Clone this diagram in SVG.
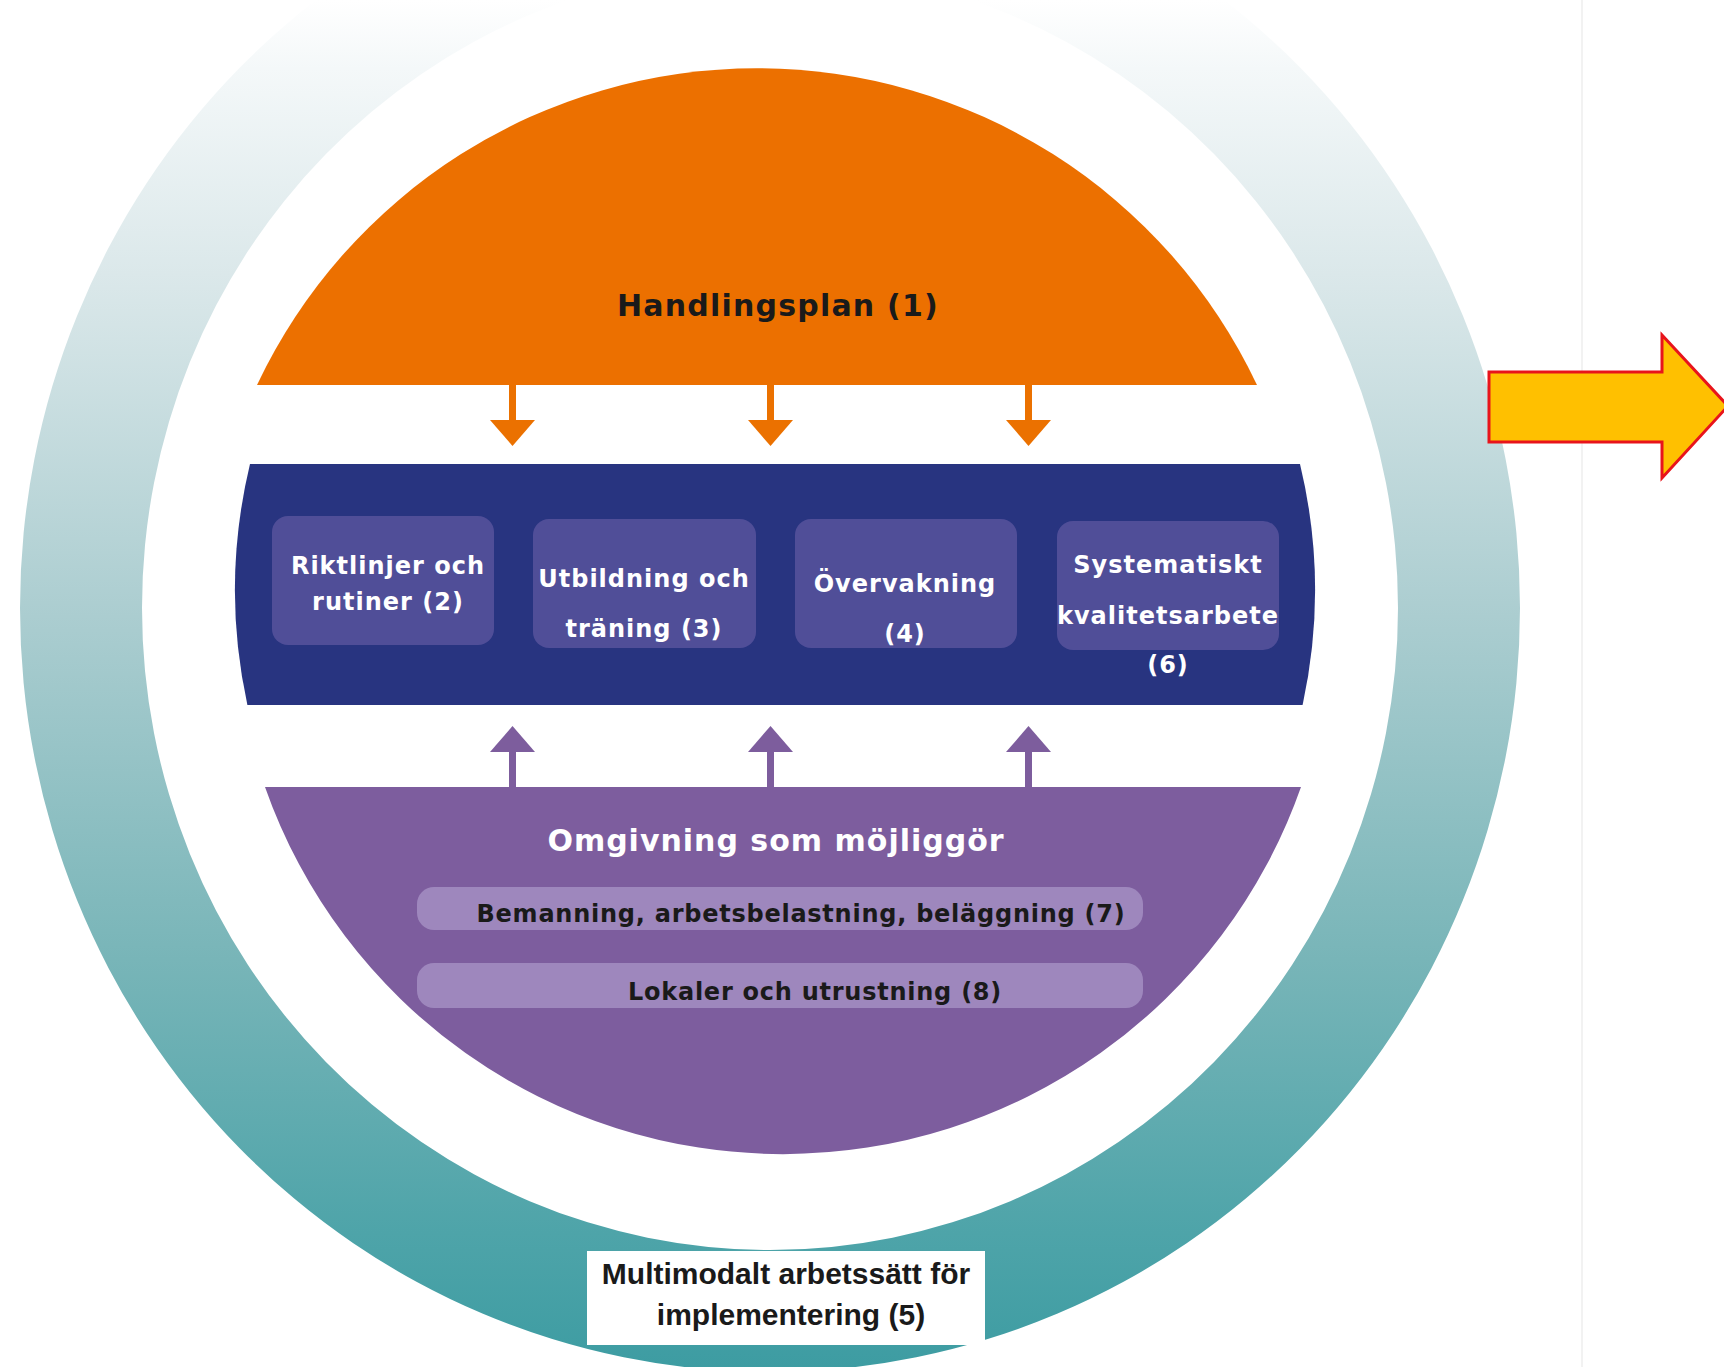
<svg xmlns="http://www.w3.org/2000/svg" width="1724" height="1367" viewBox="0 0 1724 1367">
<defs>
<linearGradient id="ringGrad" gradientUnits="userSpaceOnUse" x1="0" y1="0" x2="0" y2="1370">
<stop offset="0" stop-color="#ffffff"/>
<stop offset="0.05" stop-color="#f4f8f9"/>
<stop offset="0.2" stop-color="#dbe8ea"/>
<stop offset="0.45" stop-color="#abcdd0"/>
<stop offset="0.7" stop-color="#78b5b8"/>
<stop offset="0.9" stop-color="#4ea4a9"/>
<stop offset="1" stop-color="#3d9ca2"/>
</linearGradient>
</defs>
<style>
.w{font-family:"DejaVu Sans",Verdana,sans-serif;font-weight:bold;font-size:24px;fill:#ffffff;letter-spacing:1px;text-anchor:middle}
.big{font-size:30px}
.blk{font-family:"DejaVu Sans",Verdana,sans-serif;font-weight:bold;fill:#1a1a1a;text-anchor:middle}
.cal{font-family:"Liberation Sans",Arial,sans-serif;font-weight:bold;font-size:30px;fill:#1a1a1a;text-anchor:middle}
.box{fill:#504e98}
.bar{fill:#9e87bd}
.oa{fill:#eb7100}
.pa{fill:#7d5d9d}
</style>
<rect x="0" y="0" width="1724" height="1367" fill="#ffffff"/>
<line x1="1582" y1="0" x2="1582" y2="1367" stroke="#f2f2f2" stroke-width="2"/>

<g id="ring">
<path fill="url(#ringGrad)" fill-rule="evenodd" d="M20,608 A750,764 0 1 1 1520,608 A750,764 0 1 1 20,608 Z M142,608 A628,642 0 1 0 1398,608 A628,642 0 1 0 142,608 Z"/>
</g>

<g id="handlingsplan">
<path fill="#ec7000" d="M257,385 A553,553 0 0 1 1257,385 Z"/>
<text class="blk" x="778" y="316" font-size="30" letter-spacing="1.2">Handlingsplan (1)</text>
</g>

<g id="band">
<path fill="#283480" d="M250,464 L1300,464 A540,540 0 0 1 1302.6,705 L247.4,705 A540,540 0 0 1 250,464 Z"/>
</g>

<g id="riktlinjer">
<rect class="box" x="272" y="516" width="222" height="129" rx="16"/>
<text class="w" x="388" y="574">Riktlinjer och</text>
<text class="w" x="388" y="610">rutiner (2)</text>
</g>
<g id="utbildning">
<rect class="box" x="533" y="519" width="223" height="129" rx="16"/>
<text class="w" x="644" y="587">Utbildning och</text>
<text class="w" x="644" y="637">träning (3)</text>
</g>
<g id="overvakning">
<rect class="box" x="795" y="519" width="222" height="129" rx="16"/>
<text class="w" x="905" y="592" letter-spacing="1.5">Övervakning</text>
<text class="w" x="905" y="642">(4)</text>
</g>
<g id="systematiskt">
<rect class="box" x="1057" y="521" width="222" height="129" rx="16"/>
<text class="w" x="1168" y="573">Systematiskt</text>
<text class="w" x="1168" y="624">kvalitetsarbete</text>
<text class="w" x="1168" y="673">(6)</text>
</g>

<g id="omgivning">
<path fill="#7d5d9e" d="M265,787 L1301,787 A549,549 0 0 1 265,787 Z"/>
<text class="w big" x="776" y="851">Omgivning som möjliggör</text>
</g>
<g id="bemanning">
<rect class="bar" x="417" y="887" width="726" height="43" rx="17"/>
<text class="blk" x="801" y="922" font-size="24" letter-spacing="0.75">Bemanning, arbetsbelastning, beläggning (7)</text>
</g>
<g id="lokaler">
<rect class="bar" x="417" y="963" width="726" height="45" rx="17"/>
<text class="blk" x="815" y="1000" font-size="24" letter-spacing="0.75">Lokaler och utrustning (8)</text>
</g>

<g id="multimodalt">
<rect x="587" y="1251" width="398" height="94" fill="#ffffff"/>
<text class="cal" x="786" y="1284">Multimodalt arbetssätt för</text>
<text class="cal" x="791" y="1325">implementering (5)</text>
</g>

<g id="connectors">
<rect class="oa" x="509" y="384" width="7" height="38"/>
<polygon class="oa" points="490,420 535,420 512.5,446"/>
<rect class="oa" x="767" y="384" width="7" height="38"/>
<polygon class="oa" points="748,420 793,420 770.5,446"/>
<rect class="oa" x="1025" y="384" width="7" height="38"/>
<polygon class="oa" points="1006,420 1051,420 1028.5,446"/>
<rect class="pa" x="509" y="749" width="7" height="40"/>
<polygon class="pa" points="490,752 535,752 512.5,726"/>
<rect class="pa" x="767" y="749" width="7" height="40"/>
<polygon class="pa" points="748,752 793,752 770.5,726"/>
<rect class="pa" x="1025" y="749" width="7" height="40"/>
<polygon class="pa" points="1006,752 1051,752 1028.5,726"/>
<polygon points="1489,372 1662,372 1662,335 1728,406 1662,478 1662,442 1489,442" fill="#ffc000" stroke="#e8141b" stroke-width="3"/>
</g>
</svg>
